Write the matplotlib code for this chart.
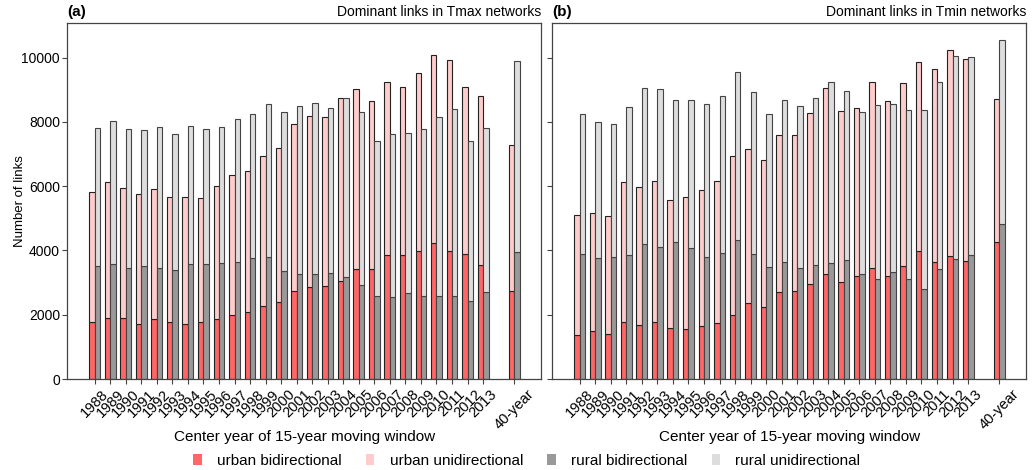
import numpy as np
import matplotlib.pyplot as plt
from matplotlib.patches import Patch

plt.rcParams['font.family'] = ['Liberation Sans', 'DejaVu Sans']
plt.rcParams['font.size'] = 10

# tick labels: 26 moving windows plus the full 40-year period
years = [str(y) for y in range(1988, 2014)]
labels = years + ['40-year']

# panel (a): Tmax networks, stack tops
tmax_urban_bi = [1760, 1890, 1890, 1700, 1870, 1760, 1700, 1760, 1860, 1990, 2080, 2280, 2390,
                 2730, 2850, 2880, 3050, 3410, 3430, 3860, 3850, 3970, 4220, 3970, 3880, 3540, 2730]
tmax_urban_all = [5830, 6130, 5950, 5750, 5920, 5650, 5670, 5630, 6000, 6340, 6460, 6940, 7190,
                  7940, 8190, 8170, 8750, 9030, 8640, 9250, 9080, 9530, 10070, 9940, 9090, 8820, 7270]
tmax_rural_bi = [3510, 3580, 3470, 3510, 3440, 3400, 3570, 3570, 3600, 3630, 3770, 3810, 3370,
                 3270, 3260, 3300, 3170, 2940, 2590, 2540, 2670, 2590, 2570, 2590, 2420, 2710, 3950]
tmax_rural_all = [7820, 8040, 7790, 7750, 7840, 7640, 7860, 7790, 7830, 8080, 8250, 8570, 8300,
                  8500, 8580, 8430, 8740, 8300, 7420, 7620, 7650, 7770, 8170, 8400, 7420, 7800, 9890]

# panel (b): Tmin networks
tmin_urban_bi = [1380, 1480, 1400, 1760, 1680, 1770, 1590, 1560, 1660, 1730, 1990, 2360, 2250,
                 2700, 2730, 2960, 3260, 3010, 3200, 3440, 3200, 3520, 3970, 3640, 3820, 3660, 4260]
tmin_urban_all = [5090, 5160, 5060, 6140, 5990, 6160, 5580, 5660, 5880, 6150, 6940, 7160, 6830,
                  7590, 7610, 8290, 9050, 8350, 8430, 9260, 8660, 9220, 9870, 9650, 10240, 9950, 8700]
tmin_rural_bi = [3880, 3780, 3790, 3850, 4200, 4100, 4250, 4080, 3810, 3930, 4330, 3880, 3500,
                 3630, 3470, 3560, 3610, 3690, 3270, 3100, 3320, 3100, 2800, 3410, 3720, 3850, 4810]
tmin_rural_all = [8250, 7990, 7930, 8470, 9060, 9030, 8690, 8690, 8570, 8820, 9560, 8930, 8240,
                  8670, 8490, 8760, 9240, 8960, 8310, 8520, 8560, 8360, 8360, 9260, 10040, 10020, 10550]

c_ubi = '#ff6666'
c_uuni = '#ffcccc'
c_rbi = '#999999'
c_runi = '#dddddd'

pos = np.append(np.arange(len(years)), len(years) + 1)
w = 0.35

fig = plt.figure(figsize=(10.33, 4.7), dpi=100)
ax1 = fig.add_axes([0.0649, 0.1936, 0.459, 0.7574])
ax2 = fig.add_axes([0.5344, 0.1936, 0.459, 0.7574])

panels = [
    (ax1, tmax_urban_bi, tmax_urban_all, tmax_rural_bi, tmax_rural_all, '(a)', 'Dominant links in Tmax networks'),
    (ax2, tmin_urban_bi, tmin_urban_all, tmin_rural_bi, tmin_rural_all, '(b)', 'Dominant links in Tmin networks'),
]

for ax, ubi, uall, rbi, rall, tag, title in panels:
    ubi = np.array(ubi)
    uall = np.array(uall)
    rbi = np.array(rbi)
    rall = np.array(rall)
    ax.bar(pos - w / 2, ubi, w, color=c_ubi, edgecolor='#222222', linewidth=0.8)
    ax.bar(pos - w / 2, uall - ubi, w, bottom=ubi, color=c_uuni, edgecolor='#222222', linewidth=0.8)
    ax.bar(pos + w / 2, rbi, w, color=c_rbi, edgecolor='#444444', linewidth=0.8)
    ax.bar(pos + w / 2, rall - rbi, w, bottom=rbi, color=c_runi, edgecolor='#444444', linewidth=0.8)

    ax.set_xlim(-1.78, 28.74)
    ax.set_ylim(0, 11080)
    ax.set_xticks(pos)
    ax.set_xticklabels(labels, rotation=45, fontsize=10.5)
    ax.set_yticks(np.arange(0, 10001, 2000))
    ax.tick_params(axis='y', labelsize=10, length=3.5, pad=1.5)
    ax.tick_params(axis='x', length=3.5, pad=2.5)
    ax.set_xlabel('Center year of 15-year moving window', fontsize=11)
    ax.xaxis.set_label_coords(0.5, -0.142)
    for s in ax.spines.values():
        s.set_color('#444444')
        s.set_linewidth(0.9)
    ax.tick_params(color='#444444')
    ax.text(0.0, 1.012, tag, transform=ax.transAxes, fontsize=11, fontweight='bold',
            ha='left', va='bottom')
    ax.text(1.0, 1.012, title, transform=ax.transAxes, fontsize=10, ha='right', va='bottom')

ax1.set_ylabel('Number of links', fontsize=9.5)
ax1.yaxis.set_label_coords(-0.086, 0.5)
ax2.set_yticklabels([])

handles = [Patch(facecolor=c_ubi), Patch(facecolor=c_uuni), Patch(facecolor=c_rbi), Patch(facecolor=c_runi)]
names = ['urban bidirectional', 'urban unidirectional', 'rural bidirectional', 'rural unidirectional']
fig.legend(handles, names, loc='center', ncol=4, frameon=False, bbox_to_anchor=(0.51, 0.02),
           handlelength=0.55, handleheight=0.7, handletextpad=1.0, columnspacing=1.6, fontsize=11)

fig.savefig('out.png', dpi=100)
